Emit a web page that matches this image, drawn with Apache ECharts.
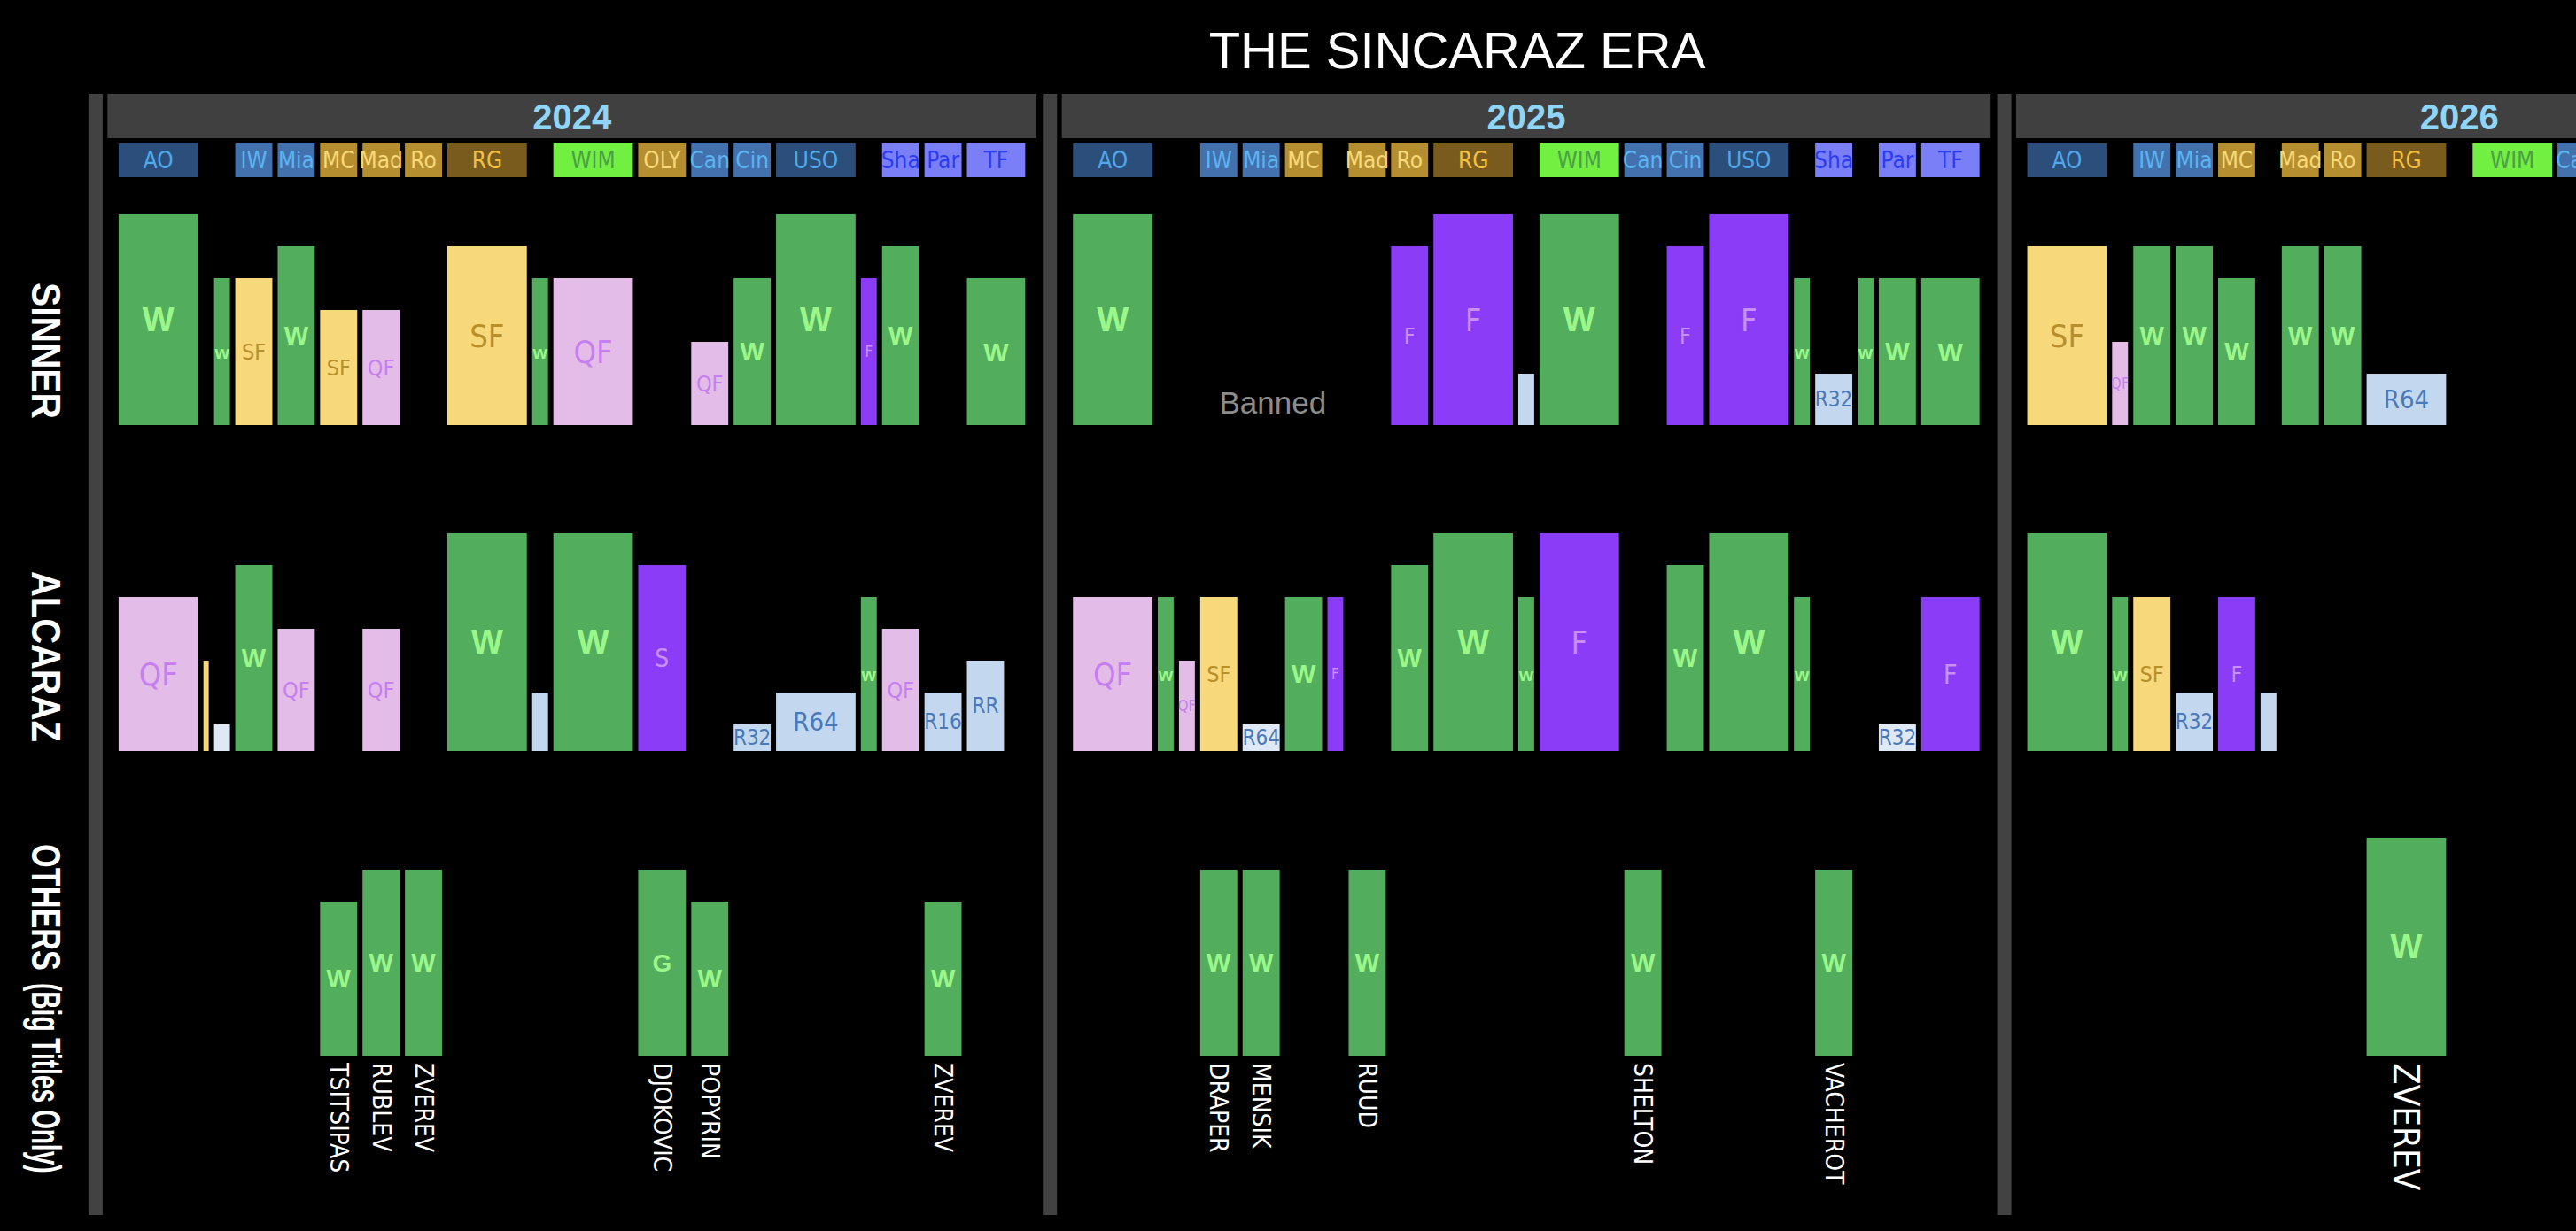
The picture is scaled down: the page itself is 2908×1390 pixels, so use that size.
<!DOCTYPE html>
<html><head><meta charset="utf-8">
<script src="https://cdn.jsdelivr.net/npm/echarts@6/dist/echarts.min.js"></script>
<style>html,body{margin:0;padding:0;background:#000;} #c{width:2908px;height:1390px;}</style>
</head><body><div id="c"></div>
<script>
// ---------------- DATA ----------------
const YEARS = [2024, 2025, 2026];
const UNITS_PER_YEAR = 45;

// Tournament slots on the timeline: [key, startUnit, endUnit]
const slots2024 = [['AO',0,4],['BA',4,4.5],['FEB',4.5,5.5],['IW',5.5,7.5],['Mia',7.5,9.5],['MC',9.5,11.5],['Mad',11.5,13.5],['Ro',13.5,15.5],['RG',15.5,19.5],['HAL',19.5,20.5],['WIM',20.5,24.5],['OLY',24.5,27],['Can',27,29],['Cin',29,31],['USO',31,35],['ASIA',35,36],['Sha',36,38],['Par',38,40],['TF',40,43]];
const slots2025 = [['AO',0,4],['FEB',4,5],['DOH',5,6],['IW',6,8],['Mia',8,10],['MC',10,12],['BAR',12,13],['Mad',13,15],['Ro',15,17],['RG',17,21],['HAL',21,22],['WIM',22,26],['Can',26,28],['Cin',28,30],['USO',30,34],['ASIA',34,35],['Sha',35,37],['VIE',37,38],['Par',38,40],['TF',40,43]];
const slots2026 = [['AO',0,4],['FEB',4,5],['IW',5,7],['Mia',7,9],['MC',9,11],['BAR',11,12],['Mad',12,14],['Ro',14,16],['RG',16,20],['HAL',20,21],['WIM',21,25],['Can',25,27]];

// Tournaments that get a label box in the header row
const labelledTours = ['AO','IW','Mia','MC','Mad','Ro','RG','WIM','OLY','Can','Cin','USO','Sha','Par','TF'];

// Results: [slot, result code, level, bar label, (width in units | player name)]
const sinner2024 = [['AO','W',7,'W'],['FEB','W',5,'w'],['IW','SF',5,'SF'],['Mia','W',6,'W'],['MC','SF',4,'SF'],['Mad','QF',4,'QF'],['RG','SF',6,'SF'],['HAL','W',5,'w'],['WIM','QF',5,'QF'],['Can','QF',3,'QF'],['Cin','W',5,'W'],['USO','W',7,'W'],['ASIA','F',5,'F'],['Sha','W',6,'W'],['TF','W',5,'W']];
const sinner2025 = [['AO','W',7,'W'],['Ro','F',6,'F'],['RG','F',7,'F'],['HAL','R',2,''],['WIM','W',7,'W'],['Cin','F',6,'F'],['USO','F',7,'F'],['ASIA','W',5,'w'],['Sha','R',2,'R32'],['VIE','W',5,'w'],['Par','W',5,'W'],['TF','W',5,'W']];
const sinner2026 = [['AO','SF',6,'SF'],['FEB','QF',3,'QF'],['IW','W',6,'W'],['Mia','W',6,'W'],['MC','W',5,'W'],['Mad','W',6,'W'],['Ro','W',6,'W'],['RG','R',2,'R64']];

const alcaraz2024 = [['AO','QF',5,'QF'],['BA','SF',3,''],['FEB','R0',1,''],['IW','W',6,'W'],['Mia','QF',4,'QF'],['Mad','QF',4,'QF'],['RG','W',7,'W'],['HAL','R',2,''],['WIM','W',7,'W'],['OLY','F',6,'S'],['Cin','R',1,'R32'],['USO','R',2,'R64'],['ASIA','W',5,'w'],['Sha','QF',4,'QF'],['Par','R',2,'R16'],['TF','R',3,'RR',2]];
const alcaraz2025 = [['AO','QF',5,'QF'],['FEB','W',5,'w'],['DOH','QF',3,'QF'],['IW','SF',5,'SF'],['Mia','R0',1,'R64'],['MC','W',5,'W'],['BAR','F',5,'F'],['Ro','W',6,'W'],['RG','W',7,'W'],['HAL','W',5,'w'],['WIM','F',7,'F'],['Cin','W',6,'W'],['USO','W',7,'W'],['ASIA','W',5,'w'],['Par','R0',1,'R32'],['TF','F',5,'F']];
const alcaraz2026 = [['AO','W',7,'W'],['FEB','W',5,'w'],['IW','SF',5,'SF'],['Mia','R',2,'R32'],['MC','F',5,'F'],['BAR','R',2,'']];

const others2024 = [['MC','W',5,'W','TSITSIPAS'],['Mad','W',6,'W','RUBLEV'],['Ro','W',6,'W','ZVEREV'],['OLY','W',6,'G','DJOKOVIC'],['Can','W',5,'W','POPYRIN'],['Par','W',5,'W','ZVEREV']];
const others2025 = [['IW','W',6,'W','DRAPER'],['Mia','W',6,'W','MENSIK'],['Mad','W',6,'W','RUUD'],['Can','W',6,'W','SHELTON'],['Sha','W',6,'W','VACHEROT']];
const others2026 = [['RG','W',7,'W','ZVEREV']];

const rowTitles = ['SINNER','ALCARAZ','OTHERS','(Big Titles Only)'];
const notes = [{year:2025, at:9.55, level:1.1, text:'Banned'}];

// ---------------- STYLE ----------------
const BAR_COLORS = {W:'#52ad5c', F:'#8a3cf6', SF:'#f7d97b', QF:'#e3bce8', R:'#c3d8ee', R0:'#dfe9f5'};
const LABEL_COLORS = {W:'#9cf78a', F:'#c98ff4', SF:'#b78f2b', QF:'#c67ff0', R:'#4a78b8', R0:'#4a78b8'};
const TOUR_STYLE = {
  AO:['#2c4e7b','#4ea8ea'], USO:['#2c4e7b','#4ea8ea'],
  IW:['#4271ae','#5ab4f0'], Mia:['#4271ae','#5ab4f0'], Can:['#4271ae','#5ab4f0'], Cin:['#4271ae','#5ab4f0'],
  MC:['#b58f2f','#f8d878'], Mad:['#b58f2f','#f8d878'], Ro:['#b58f2f','#f8d878'], OLY:['#b58f2f','#f8d878'],
  RG:['#7a5b1e','#f5c040'], WIM:['#72f042','#4c9e48'],
  Sha:['#7b7ff7','#2b3df2'], Par:['#7b7ff7','#2b3df2'], TF:['#7b7ff7','#2b3df2']
};
const NARROW = "'Liberation Sans Narrow','DejaVu Sans Condensed',sans-serif";
const SANS = "'Liberation Sans',Arial,sans-serif";
const GAP = 3;

// ---------------- BUILD ----------------
const SLOTS = {2024:slots2024, 2025:slots2025, 2026:slots2026};
const ROWS = [
  {lift:14, byYear:{2024:sinner2024, 2025:sinner2025, 2026:sinner2026}},
  {lift:6,  byYear:{2024:alcaraz2024, 2025:alcaraz2025, 2026:alcaraz2026}},
  {lift:6,  byYear:{2024:others2024, 2025:others2025, 2026:others2026}}
];
function slotRange(year, key){
  const s = SLOTS[year].find(d => d[0] === key);
  const off = (year - YEARS[0]) * UNITS_PER_YEAR;
  return [off + s[1], off + s[2]];
}
function buildRow(row){
  const data = [], meta = [];
  YEARS.forEach(y => row.byYear[y].forEach(r => {
    let [a, b] = slotRange(y, r[0]);
    if (typeof r[4] === 'number') b = a + r[4];
    data.push([a, b, r[2]]);
    meta.push({code:r[1], label:r[3], name: typeof r[4] === 'string' ? r[4] : null});
  }));
  return {data, meta};
}
function labelFont(w, m){
  const bold = m.code === 'W' && m.label !== '';
  let size;
  if (w >= 80) size = bold ? 38 : (m.code[0] === 'R' ? 29 : 36);
  else if (w >= 60) size = bold ? 30 : 31;
  else if (w >= 48) size = 28;
  else if (w >= 30) size = bold ? 29 : (m.code[0] === 'R' ? 24 : 25);
  else size = bold ? 21 : 17;
  return (bold ? 'bold ' : '') + size + 'px ' + (bold ? SANS : NARROW);
}
function barRenderer(meta, lift){
  return function(params, api){
    const p0 = api.coord([api.value(0), api.value(2)]);
    const p1 = api.coord([api.value(1), 0]);
    const x0 = p0[0] + GAP, x1 = p1[0] - GAP, top = p0[1], bottom = p1[1] - lift;
    const w = x1 - x0, h = bottom - top;
    const m = meta[params.dataIndex];
    const children = [{type:'rect', shape:{x:x0, y:top, width:w, height:h}, style:{fill:BAR_COLORS[m.code]}}];
    if (m.label && w > 12) {
      children.push({type:'group', clipPath:{type:'rect', shape:{x:x0, y:top, width:w, height:h}},
        children:[{type:'text', x:x0 + w/2, y:top + h/2,
          style:{text:m.label, fill:LABEL_COLORS[m.code], font:labelFont(w, m), align:'center', verticalAlign:'middle'}}]});
    }
    if (m.name) {
      children.push({type:'text', x:x0 + w/2, y:bottom + 8, rotation:-Math.PI/2,
        style:{text:m.name, fill:'#ffffff', font:(w >= 80 ? 40 : 28) + 'px ' + NARROW, align:'left', verticalAlign:'middle'}});
    }
    return {type:'group', children};
  };
}

const headerData = YEARS.map((y, i) => [i * UNITS_PER_YEAR]);
function headerRenderer(params, api){
  const off = api.value(0);
  const isLast = params.dataIndex === YEARS.length - 1;
  const sx = api.coord([off - 0.96, 0])[0];
  const hx0 = api.coord([off - 0.4, 0])[0];
  const hx1 = api.coord([off + (isLast ? 41.4 : 43.4), 0])[0];
  const hx1full = api.coord([off + 43.4, 0])[0];
  return {type:'group', children:[
    {type:'rect', shape:{x:sx - 8, y:106, width:16, height:1266}, style:{fill:'#424242'}},
    {type:'rect', shape:{x:hx0, y:106, width:hx1full - hx0, height:50}, style:{fill:'#404040'}},
    {type:'text', x:(hx0 + hx1)/2, y:132, style:{text:String(YEARS[params.dataIndex]), fill:'#8fd5f7',
      font:'bold 40px ' + SANS, align:'center', verticalAlign:'middle'}}
  ]};
}
const tourData = [], tourMeta = [];
YEARS.forEach(y => SLOTS[y].forEach(s => {
  if (labelledTours.indexOf(s[0]) >= 0) { const r = slotRange(y, s[0]); tourData.push(r); tourMeta.push(s[0]); }
}));
function tourRenderer(params, api){
  const x0 = api.coord([api.value(0), 0])[0] + GAP, x1 = api.coord([api.value(1), 0])[0] - GAP;
  const st = TOUR_STYLE[tourMeta[params.dataIndex]];
  return {type:'group', children:[
    {type:'rect', shape:{x:x0, y:162, width:x1 - x0, height:38}, style:{fill:st[0]}},
    {type:'text', x:(x0 + x1)/2, y:181, style:{text:tourMeta[params.dataIndex], fill:st[1], font:'26px ' + NARROW, align:'center', verticalAlign:'middle'}}
  ]};
}
const noteData = notes.map(n => [(n.year - YEARS[0]) * UNITS_PER_YEAR + n.at, n.level]);
function noteRenderer(params, api){
  const p = api.coord([api.value(0), api.value(1)]);
  return {type:'text', x:p[0], y:p[1], style:{text:notes[params.dataIndex].text, fill:'#8c8c8c', font:'35px ' + SANS, align:'center', verticalAlign:'middle'}};
}

const built = ROWS.map(buildRow);
const gridTops = [242, 602, 946];
const option = {
  backgroundColor:'#000000',
  animation:false,
  grid: gridTops.map(t => ({left:11.2, width:2899.16, top:t, height:252})),
  xAxis: gridTops.map((t, i) => ({type:'value', gridIndex:i, min:-5, max:116, show:false})),
  yAxis: gridTops.map((t, i) => ({type:'value', gridIndex:i, min:0, max:7, show:false})),
  graphic: [
    {type:'text', x:1645, y:56, style:{text:'THE SINCARAZ ERA', fill:'#ffffff', font:'58px ' + SANS, align:'center', verticalAlign:'middle'}},
    {type:'text', x:52, y:319, rotation:-Math.PI/2, scaleX:0.886, style:{text:rowTitles[0], fill:'#fff', font:'bold 46px ' + SANS, align:'left', verticalAlign:'middle'}},
    {type:'text', x:52, y:645, rotation:-Math.PI/2, scaleX:0.868, style:{text:rowTitles[1], fill:'#fff', font:'bold 46px ' + SANS, align:'left', verticalAlign:'middle'}},
    {type:'text', x:52, y:953, rotation:-Math.PI/2, scaleX:0.746, style:{text:rowTitles[2], fill:'#fff', font:'bold 46px ' + SANS, align:'left', verticalAlign:'middle'}},
    {type:'text', x:52, y:1110, rotation:-Math.PI/2, scaleX:0.61, style:{text:rowTitles[3], fill:'#fff', font:'bold 46px ' + SANS, align:'left', verticalAlign:'middle'}}
  ],
  series: [
    {type:'custom', name:'headers', xAxisIndex:0, yAxisIndex:0, data:headerData, renderItem:headerRenderer, clip:false, silent:true},
    {type:'custom', name:'tournaments', xAxisIndex:0, yAxisIndex:0, data:tourData, renderItem:tourRenderer, clip:false, silent:true},
    {type:'custom', name:'Sinner', xAxisIndex:0, yAxisIndex:0, data:built[0].data, renderItem:barRenderer(built[0].meta, ROWS[0].lift), clip:false},
    {type:'custom', name:'Alcaraz', xAxisIndex:1, yAxisIndex:1, data:built[1].data, renderItem:barRenderer(built[1].meta, ROWS[1].lift), clip:false},
    {type:'custom', name:'Others', xAxisIndex:2, yAxisIndex:2, data:built[2].data, renderItem:barRenderer(built[2].meta, ROWS[2].lift), clip:false},
    {type:'custom', name:'notes', xAxisIndex:0, yAxisIndex:0, data:noteData, renderItem:noteRenderer, clip:false, silent:true}
  ]
};
const chart = echarts.init(document.getElementById('c'), null, {renderer:'svg', width:2908, height:1390});
chart.setOption(option);
</script>
</body></html>
